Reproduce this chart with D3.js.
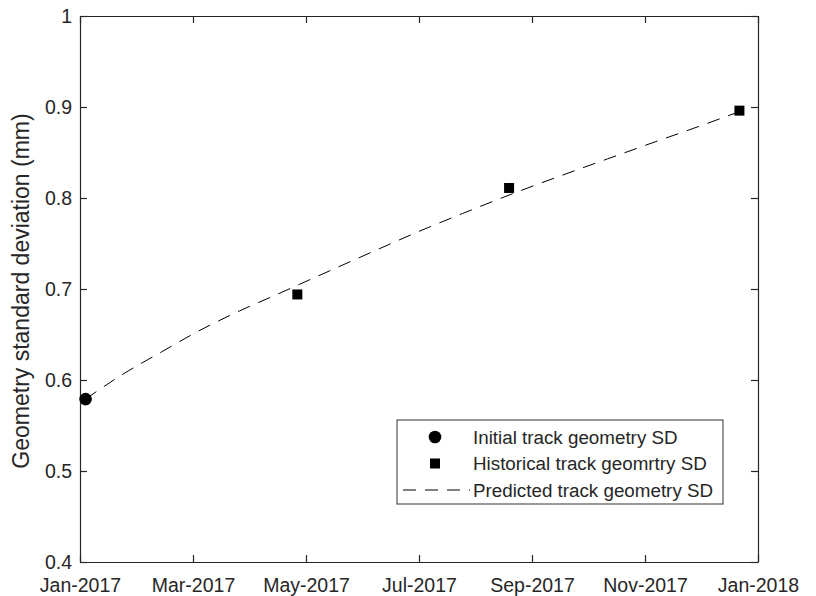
<!DOCTYPE html>
<html>
<head>
<meta charset="utf-8">
<script src="https://cdn.jsdelivr.net/npm/d3@7"></script>
<style>
  html, body { margin: 0; padding: 0; background: #fff; }
  svg { display: block; font-family: "Liberation Sans", Arial, sans-serif; }
</style>
</head>
<body>
<svg id="chart" width="816" height="596"></svg>
<script>
// Initial measurement
const initialDates = ["2017-01-04"];
const initialValues = [0.579];

// Historical measurements
const historicalDates = ["2017-04-28", "2017-08-20", "2017-12-22"];
const historicalValues = [0.694, 0.811, 0.896];

// Predicted degradation curve
const predictedDates = [
  "2017-01-04", "2017-01-23", "2017-02-14", "2017-03-06",
  "2017-03-28", "2017-04-17", "2017-04-29", "2017-06-12", "2017-07-01",
  "2017-07-26", "2017-08-21", "2017-09-27", "2017-10-12", "2017-11-07",
  "2017-12-02", "2017-12-22"
];
const predictedValues = [
  0.579, 0.605, 0.631, 0.654,
  0.676, 0.694, 0.705, 0.745, 0.762,
  0.783, 0.804, 0.832, 0.843, 0.862,
  0.880, 0.895
];

const yTicks = [0.4, 0.5, 0.6, 0.7, 0.8, 0.9, 1];
const xTickLabels = ["Jan-2017", "Mar-2017", "May-2017", "Jul-2017", "Sep-2017", "Nov-2017", "Jan-2018"];

const legendLabels = [
  "Initial track geometry SD",
  "Historical track geomrtry SD",
  "Predicted track geometry SD"
];

const parse = d3.utcParse("%Y-%m-%d");
const ink = "#262626";

const margin = { left: 80, top: 16, right: 58, bottom: 34 };
const W = 816, H = 596;
const plotW = W - margin.left - margin.right;
const plotH = H - margin.top - margin.bottom;

const svg = d3.select("#chart");
const g = svg.append("g").attr("transform", `translate(${margin.left},${margin.top})`);

const t0 = parse("2017-01-01"), t1 = parse("2018-01-01");
const x = d3.scaleUtc().domain([t0, t1]).range([0, plotW]);
const y = d3.scaleLinear().domain([0.4, 1]).range([plotH, 0]);

// Date ticks spaced evenly across the year
const xTickVals = xTickLabels.map((_, i) => new Date(+t0 + (t1 - t0) * i / (xTickLabels.length - 1)));

const tickFont = "19.5px";

// Bottom axis
const xAxis = g.append("g").attr("transform", `translate(0,${plotH})`)
  .call(d3.axisBottom(x).tickValues(xTickVals).tickSizeInner(-7).tickSizeOuter(0)
    .tickFormat((d, i) => xTickLabels[i]));
xAxis.selectAll("text").attr("dy", 0).attr("y", 30).attr("fill", ink).style("font-size", tickFont);

// Top axis (ticks only)
const xAxisTop = g.append("g")
  .call(d3.axisTop(x).tickValues(xTickVals).tickSizeInner(-7).tickSizeOuter(0).tickFormat(""));

// Left axis
const yAxis = g.append("g")
  .call(d3.axisLeft(y).tickValues(yTicks).tickSizeInner(-7).tickSizeOuter(0)
    .tickFormat(d3.format("~g")));
yAxis.selectAll("text").attr("x", -8).attr("fill", ink).style("font-size", tickFont);

// Right axis (ticks only)
const yAxisRight = g.append("g").attr("transform", `translate(${plotW},0)`)
  .call(d3.axisRight(y).tickValues(yTicks).tickSizeInner(-7).tickSizeOuter(0).tickFormat(""));

[xAxis, xAxisTop, yAxis, yAxisRight].forEach(a => {
  a.select(".domain").attr("stroke", ink).attr("stroke-width", 1.2);
  a.selectAll(".tick line").attr("stroke", ink).attr("stroke-width", 1.2);
  a.attr("font-family", null);
});

// Y axis title
svg.append("text")
  .attr("transform", `translate(29,${margin.top + plotH / 2 + 2}) rotate(-90)`)
  .attr("text-anchor", "middle")
  .attr("fill", ink)
  .style("font-size", "23px")
  .text("Geometry standard deviation (mm)");

// Predicted curve
const predicted = predictedDates.map((d, i) => ({ date: parse(d), value: predictedValues[i] }));
const line = d3.line().x(d => x(d.date)).y(d => y(d.value)).curve(d3.curveMonotoneX);
g.append("path")
  .datum(predicted)
  .attr("d", line)
  .attr("fill", "none")
  .attr("stroke", "#000")
  .attr("stroke-width", 1)
  .attr("stroke-dasharray", "13,9");

// Initial point
g.selectAll("circle.initial")
  .data(initialDates.map((d, i) => ({ date: parse(d), value: initialValues[i] })))
  .join("circle")
  .attr("class", "initial")
  .attr("cx", d => x(d.date))
  .attr("cy", d => y(d.value))
  .attr("r", 6.3)
  .attr("fill", "#000");

// Historical points
const sq = 10;
g.selectAll("rect.hist")
  .data(historicalDates.map((d, i) => ({ date: parse(d), value: historicalValues[i] })))
  .join("rect")
  .attr("class", "hist")
  .attr("x", d => x(d.date) - sq / 2)
  .attr("y", d => y(d.value) - sq / 2)
  .attr("width", sq)
  .attr("height", sq)
  .attr("fill", "#000");

// Legend
const lg = svg.append("g").attr("transform", "translate(397,420)");
lg.append("rect").attr("width", 326).attr("height", 84)
  .attr("fill", "#fff").attr("stroke", "#333").attr("stroke-width", 1);
const rowY = [17, 43.5, 70];
lg.append("circle").attr("cx", 38).attr("cy", rowY[0]).attr("r", 6.3).attr("fill", "#000");
lg.append("rect").attr("x", 38 - 5).attr("y", rowY[1] - 5).attr("width", 10).attr("height", 10).attr("fill", "#000");
lg.append("line").attr("x1", 6).attr("x2", 73).attr("y1", rowY[2]).attr("y2", rowY[2])
  .attr("stroke", "#000").attr("stroke-width", 1).attr("stroke-dasharray", "13,9");
lg.selectAll("text.lab").data(legendLabels).join("text")
  .attr("class", "lab")
  .attr("x", 76)
  .attr("y", (d, i) => rowY[i])
  .attr("dy", "0.35em")
  .attr("fill", ink)
  .style("font-size", "18.8px")
  .text(d => d);
</script>
</body>
</html>
